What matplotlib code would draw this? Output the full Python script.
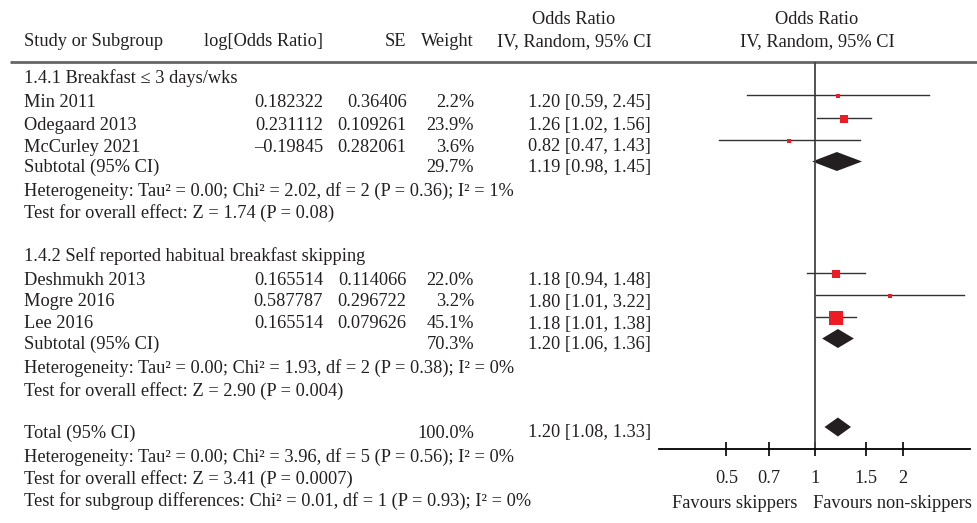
import numpy as np
import matplotlib
matplotlib.use("Agg")
import matplotlib.pyplot as plt
from matplotlib.patches import Polygon

# ---- data ----
studies = ["Min 2011", "Odegaard 2013", "McCurley 2021",
           "Deshmukh 2013", "Mogre 2016", "Lee 2016"]
group = [1, 1, 1, 2, 2, 2]
log_or = ["0.182322", "0.231112", "\u20130.19845",
          "0.165514", "0.587787", "0.165514"]
se = ["0.36406", "0.109261", "0.282061",
      "0.114066", "0.296722", "0.079626"]
weight = [2.2, 23.9, 3.6, 22.0, 3.2, 45.1]
odds = [1.20, 1.26, 0.82, 1.18, 1.80, 1.18]
ci_lo = [0.59, 1.02, 0.47, 0.94, 1.01, 1.01]
ci_hi = [2.45, 1.56, 1.43, 1.48, 3.22, 1.38]

pooled_names = ["Subtotal (95% CI)", "Subtotal (95% CI)", "Total (95% CI)"]
pooled_weight = [29.7, 70.3, 100.0]
pooled_or = [1.19, 1.20, 1.20]
pooled_lo = [0.98, 1.06, 1.08]
pooled_hi = [1.45, 1.36, 1.33]

group_titles = ["1.4.1 Breakfast \u2264 3 days/wks",
                "1.4.2 Self reported habitual breakfast skipping"]
het_lines = [
    "Heterogeneity: Tau\u00b2 = 0.00; Chi\u00b2 = 2.02, df = 2 (P = 0.36); I\u00b2 = 1%",
    "Heterogeneity: Tau\u00b2 = 0.00; Chi\u00b2 = 1.93, df = 2 (P = 0.38); I\u00b2 = 0%",
    "Heterogeneity: Tau\u00b2 = 0.00; Chi\u00b2 = 3.96, df = 5 (P = 0.56); I\u00b2 = 0%",
]
effect_lines = [
    "Test for overall effect: Z = 1.74 (P = 0.08)",
    "Test for overall effect: Z = 2.90 (P = 0.004)",
    "Test for overall effect: Z = 3.41 (P = 0.0007)",
]
subgroup_line = "Test for subgroup differences: Chi\u00b2 = 0.01, df = 1 (P = 0.93); I\u00b2 = 0%"
tick_vals = [0.5, 0.7, 1, 1.5, 2]
tick_labels = ["0.5", "0.7", "1", "1.5", "2"]
favours = ["Favours skippers", "Favours non-skippers"]

# ---- layout (pixel rows, baselines) ----
W, H = 977, 523
study_base = [107, 130, 151.5, 285, 306.5, 328.5]
pooled_base = [172, 349, 437.5]
title_base = [83, 261]
het_base = [195.5, 373, 461.5]
effect_base = [217.5, 396, 483.5]
subgroup_base = 506
mark_shift = 11.5          # graphic centre sits above text baseline

x_study, x_logor, x_se, x_w, x_or = 24, 323, 406.5, 474, 651
x_hdr_or, x_hdr_plot = 574, 817
plot_x0, plot_x1 = 659, 970
plot_top, axis_y = 62, 449
red = "#ed1c24"
dark = "#231f20"

plt.rcParams["font.family"] = ["Liberation Serif", "DejaVu Serif"]
plt.rcParams["font.size"] = 13.2

fig = plt.figure(figsize=(W / 100, H / 100), dpi=100)
ax = fig.add_axes([0, 0, 1, 1])
ax.set_xlim(0, W)
ax.set_ylim(H, 0)
ax.axis("off")

txt = dict(va="baseline", color=dark)

# header
ax.text(x_study, 46, "Study or Subgroup", ha="left", **txt)
ax.text(204, 46, "log[Odds Ratio]", ha="left", **txt)
ax.text(x_se, 46, "SE", ha="right", **txt)
ax.text(x_w, 46, "Weight", ha="right", **txt)
ax.text(x_hdr_or, 24, "Odds Ratio", ha="center", **txt)
ax.text(x_hdr_or, 46, "IV, Random, 95% CI", ha="center", **txt)
ax.text(x_hdr_plot, 24, "Odds Ratio", ha="center", **txt)
ax.text(x_hdr_plot, 46, "IV, Random, 95% CI", ha="center", **txt)
ax.plot([10, W], [62, 62], color="#666666", lw=2, solid_capstyle="butt")

# table body
for i, name in enumerate(studies):
    y = study_base[i]
    ax.text(x_study, y, name, ha="left", **txt)
    ax.text(x_logor, y, log_or[i], ha="right", **txt)
    ax.text(x_se, y, se[i], ha="right", **txt)
    ax.text(x_w, y, "%.1f%%" % weight[i], ha="right", **txt)
    ax.text(x_or, y, "%.2f [%.2f, %.2f]" % (odds[i], ci_lo[i], ci_hi[i]),
            ha="right", **txt)

for k in range(3):
    y = pooled_base[k]
    ax.text(x_study, y, pooled_names[k], ha="left", **txt)
    ax.text(x_w, y, "%.1f%%" % pooled_weight[k], ha="right", **txt)
    ax.text(x_or, y, "%.2f [%.2f, %.2f]" % (pooled_or[k], pooled_lo[k], pooled_hi[k]),
            ha="right", **txt)
    ax.text(x_study, het_base[k], het_lines[k], ha="left", **txt)
    ax.text(x_study, effect_base[k], effect_lines[k], ha="left", **txt)

for g in range(2):
    ax.text(x_study, title_base[g], group_titles[g], ha="left", **txt)
ax.text(x_study, subgroup_base, subgroup_line, ha="left", **txt)

# ---- forest panel ----
px_per_ln = 127.4
x_one = 814.7
lo_lim = np.exp((plot_x0 - x_one) / px_per_ln)
hi_lim = np.exp((plot_x1 - x_one) / px_per_ln)

fax = fig.add_axes([plot_x0 / W, (H - axis_y) / H,
                    (plot_x1 - plot_x0) / W, (axis_y - plot_top) / H])
fax.set_xscale("log")
fax.set_xlim(lo_lim, hi_lim)
fax.set_ylim(axis_y, plot_top)
fax.patch.set_alpha(0)
for s in ["top", "left", "right"]:
    fax.spines[s].set_visible(False)
fax.spines["bottom"].set_linewidth(1.3)
fax.spines["bottom"].set_color("black")
fax.set_yticks([])
fax.set_xticks(tick_vals)
fax.set_xticklabels(tick_labels)
fax.xaxis.set_minor_locator(matplotlib.ticker.NullLocator())
fax.tick_params(axis="x", direction="inout", length=9.5, width=1.2,
                pad=10.5, labelsize=13.2, labelcolor=dark)

fax.axvline(1, color="#444444", lw=1.3)

for i in range(len(studies)):
    y = study_base[i] - mark_shift
    fax.plot([ci_lo[i], ci_hi[i]], [y, y], color="#333333", lw=1.0)
    side = max(3.5, 2.0 + 0.245 * weight[i])
    fax.plot(odds[i], y + 1, marker="s", ms=side * 0.72, color=red,
             mec=red, mew=0, ls="none")

for k in range(3):
    y = pooled_base[k] - mark_shift + 1
    h = 9.5
    fax.add_patch(Polygon([[pooled_lo[k], y], [pooled_or[k], y - h],
                           [pooled_hi[k], y], [pooled_or[k], y + h]],
                          closed=True, color=dark, lw=0))

ax.text(735, 508.5, favours[0], ha="center", **txt)
ax.text(892, 508.5, favours[1], ha="center", **txt)

fig.savefig("out.png", dpi=100)
